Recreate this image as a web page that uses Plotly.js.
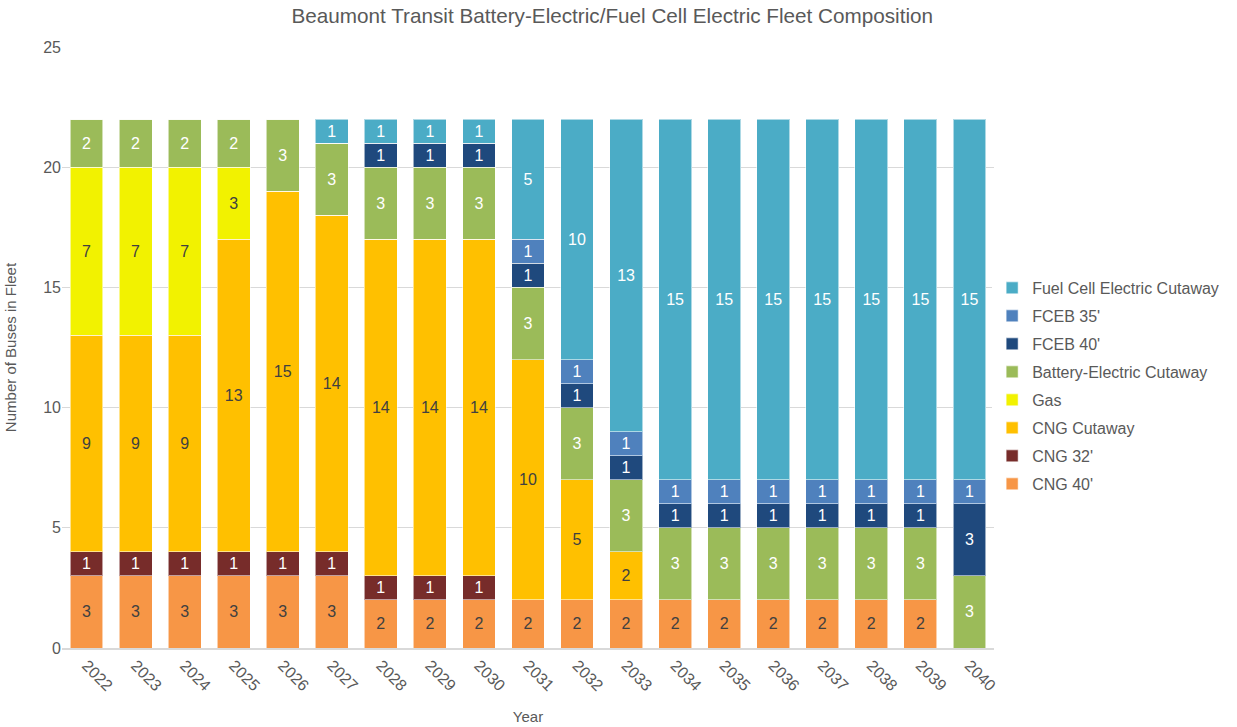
<!DOCTYPE html>
<html>
<head>
<meta charset="utf-8">
<script src="https://cdn.plot.ly/plotly-3.0.1.min.js"></script>
<style>html,body{margin:0;padding:0;background:#fff}#chart{width:1237px;height:727px}</style>
</head>
<body>
<div id="chart"></div>
<script>
const years = ['2022','2023','2024','2025','2026','2027','2028','2029','2030','2031','2032','2033','2034','2035','2036','2037','2038','2039','2040'];
const cng40 =        [3,3,3,3,3,3,2,2,2,2,2,2,2,2,2,2,2,2,0];
const cng32 =        [1,1,1,1,1,1,1,1,1,0,0,0,0,0,0,0,0,0,0];
const cngCutaway =   [9,9,9,13,15,14,14,14,14,10,5,2,0,0,0,0,0,0,0];
const gas =          [7,7,7,3,0,0,0,0,0,0,0,0,0,0,0,0,0,0,0];
const beCutaway =    [2,2,2,2,3,3,3,3,3,3,3,3,3,3,3,3,3,3,3];
const fceb40 =       [0,0,0,0,0,0,1,1,1,1,1,1,1,1,1,1,1,1,3];
const fceb35 =       [0,0,0,0,0,0,0,0,0,1,1,1,1,1,1,1,1,1,1];
const fcCutaway =    [0,0,0,0,0,1,1,1,1,5,10,13,15,15,15,15,15,15,15];

const seriesNames = ["CNG 40'", "CNG 32'", "CNG Cutaway", "Gas", "Battery-Electric Cutaway", "FCEB 40'", "FCEB 35'", "Fuel Cell Electric Cutaway"];
const seriesValues = [cng40, cng32, cngCutaway, gas, beCutaway, fceb40, fceb35, fcCutaway];
const colors = ['#F79646', '#772C2A', '#FFC000', '#F2F200', '#9BBB59', '#1F497D', '#4F81BD', '#4BACC6'];
const textColors = ['#404040', '#ffffff', '#404040', '#404040', '#ffffff', '#ffffff', '#ffffff', '#ffffff'];

const font = 'Liberation Sans, Arial, sans-serif';
const traces = seriesNames.map((name, i) => ({
  type: 'bar',
  name: name,
  legendgroup: 'g' + i,
  legendrank: 100 - i,
  x: years,
  y: seriesValues[i],
  text: seriesValues[i].map(v => v ? String(v) : ''),
  textposition: 'inside',
  insidetextanchor: 'middle',
  textangle: 0,
  constraintext: 'none',
  textfont: {family: font, size: 16, color: textColors[i]},
  marker: {color: colors[i], line: {color: 'rgba(255,255,255,0.55)', width: 1}},
  hoverinfo: 'x+y+name'
}));

const layout = {
  width: 1237, height: 727,
  margin: {l: 62, r: 243, t: 47, b: 79, autoexpand: false},
  paper_bgcolor: '#ffffff', plot_bgcolor: '#ffffff',
  barmode: 'stack',
  bargap: 0.33,
  font: {family: font, color: '#595959', size: 16},
  title: {text: 'Beaumont Transit Battery-Electric/Fuel Cell Electric Fleet Composition', x: 0.495, xanchor: 'center', y: 0.979, yanchor: 'middle', font: {family: font, size: 20.7, color: '#595959'}},
  xaxis: {
    type: 'category',
    title: {text: 'Year', font: {size: 15, color: '#595959'}, standoff: 18},
    tickangle: 45, tickfont: {size: 16, color: '#595959'},
    showline: true, linecolor: '#d9d9d9', linewidth: 2,
    ticks: '', showgrid: false
  },
  yaxis: {
    title: {text: 'Number of Buses in Fleet', font: {size: 15, color: '#595959'}, standoff: 22},
    range: [0, 25], dtick: 5, tickfont: {size: 16, color: '#595959'},
    gridcolor: '#d9d9d9', gridwidth: 1, zeroline: false, showline: false, ticks: ''
  },
  legend: {
    x: 0.998, xanchor: 'left', y: 0.436, yanchor: 'middle',
    traceorder: 'grouped', font: {size: 16, color: '#595959'},
    itemwidth: 30, tracegroupgap: 4.2
  },
  showlegend: true
};

Plotly.newPlot('chart', traces, layout, {displayModeBar: false, staticPlot: true});
</script>
</body>
</html>
